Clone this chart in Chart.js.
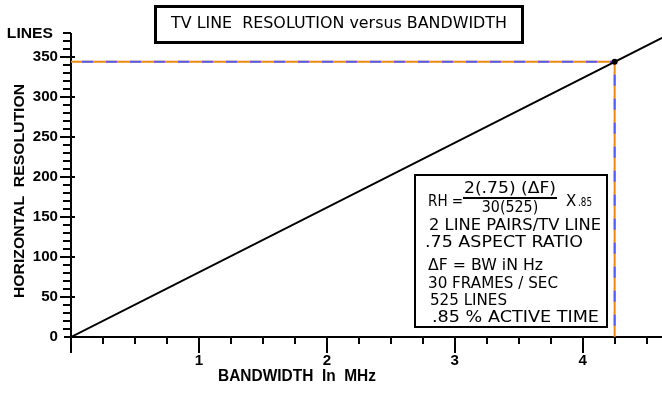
<!DOCTYPE html>
<html>
<head>
<meta charset="utf-8">
<script src="https://cdn.jsdelivr.net/npm/chart.js@4/dist/chart.umd.min.js"></script>
<style>
  html, body { margin: 0; padding: 0; background: #ffffff; }
  canvas { display: block; }
</style>
</head>
<body>
<canvas id="c" width="662" height="396"></canvas>
<script>
// ---- data ----
const bandwidthMHz    = [0, 4.25, 4.62];       // line through origin
const resolutionLines = [0, 344, 374];
const guideHX = [0, 4.25];                     // dashed horizontal guide
const guideHY = [344, 344];
const guideVX = [4.25, 4.25];                  // dashed vertical guide
const guideVY = [344, 0];
const markX = [4.25];
const markY = [344];

const yTickValues = [0, 50, 100, 150, 200, 250, 300, 350, 380];
const yTickLabels = ['0', '50', '100', '150', '200', '250', '300', '350', 'LINES'];
const xTickValues = [1, 2, 3, 4];
const xTickLabels = ['1', '2', '3', '4'];

const chartTitle = 'TV LINE  RESOLUTION versus BANDWIDTH';
const xTitle = 'BANDWIDTH  In  MHz';
const yTitle = 'HORIZONTAL  RESOLUTION';
const noteLines = ['2 LINE PAIRS/TV LINE', '.75 ASPECT RATIO', '\u0394F = BW iN Hz',
                   '30 FRAMES / SEC', '525 LINES', '.85 % ACTIVE TIME'];
const formulaParts = { lhs: 'RH =', num: '2(.75) (\u0394F)', den: '30(525)', x: 'X', k: '.85' };

const ORANGE = '#F0880F';
const BLUE = '#5858F2';
const FONT = '"Liberation Sans", Arial, sans-serif';
const NFONT = '"DejaVu Sans", "Liberation Sans", sans-serif';

function fitText(ctx, text, font, x, y, width, align) {
  ctx.save();
  ctx.font = font;
  ctx.textBaseline = 'middle';
  ctx.textAlign = 'left';
  const w = ctx.measureText(text).width;
  const sx = width ? width / w : 1;
  let left = x;
  if (align === 'center') left = x - (w * sx) / 2;
  else if (align === 'right') left = x - w * sx;
  ctx.translate(left, y);
  ctx.scale(sx, 1);
  ctx.fillText(text, 0, 0);
  ctx.restore();
}
function stretchText(ctx, text, font, x, y, sx, align) {
  ctx.save();
  ctx.font = font;
  const w = ctx.measureText(text).width;
  fitText(ctx, text, font, x, y, w * sx, align);
  ctx.restore();
}

const decor = {
  id: 'decor',
  beforeDraw(chart) {
    const ctx = chart.ctx;
    ctx.save();
    ctx.fillStyle = '#ffffff';
    ctx.fillRect(0, 0, chart.width, chart.height);
    ctx.restore();
  },
  beforeDatasetsDraw(chart) {
    const ctx = chart.ctx;
    const xs = chart.scales.x, ys = chart.scales.y;
    const x0 = Math.round(xs.getPixelForValue(0));
    const y0 = Math.round(ys.getPixelForValue(0));
    const yTop = Math.round(ys.getPixelForValue(ys.max));
    const xRight = Math.round(xs.getPixelForValue(xs.max));
    ctx.save();
    ctx.strokeStyle = '#000';
    ctx.fillStyle = '#000';
    ctx.lineWidth = 2;
    ctx.lineCap = 'butt';
    ctx.beginPath();
    ctx.moveTo(x0, yTop); ctx.lineTo(x0, y0 + 16);
    ctx.moveTo(x0 - 7, y0); ctx.lineTo(xRight + 2, y0);
    for (let v = 10; v <= ys.max + 0.001; v += 10) {
      const p = Math.round(ys.getPixelForValue(v));
      if (v % 50 === 0 && v <= 350) { ctx.moveTo(x0 - 11, p); ctx.lineTo(x0 + 4, p); }
      else { ctx.moveTo(x0 - 8, p); ctx.lineTo(x0, p); }
    }
    for (let v = 0.25; v <= xs.max + 0.001; v += 0.25) {
      const p = Math.round(xs.getPixelForValue(v));
      const major = Math.abs(v - Math.round(v)) < 1e-6;
      ctx.moveTo(p, y0); ctx.lineTo(p, y0 + (major ? 16 : 7));
    }
    ctx.stroke();

    yTickValues.forEach((v, i) => {
      const p = ys.getPixelForValue(v);
      const lbl = yTickLabels[i];
      if (lbl === 'LINES') stretchText(ctx, lbl, 'bold 14px ' + FONT, 53, p + 1, 1.12, 'right');
      else stretchText(ctx, lbl, 'bold 14px ' + FONT, 58, p, 1.08, 'right');
    });
    xTickValues.forEach((v, i) => {
      const p = xs.getPixelForValue(v);
      stretchText(ctx, xTickLabels[i], 'bold 14px ' + FONT, p, 361, 1.08, 'center');
    });
    fitText(ctx, xTitle, 'bold 16px ' + FONT, 218, 377, 158, 'left');
    ctx.save();
    ctx.translate(20, 191);
    ctx.rotate(-Math.PI / 2);
    fitText(ctx, yTitle, 'bold 15px ' + FONT, 0, 0, 214, 'center');
    ctx.restore();
    ctx.restore();
  },
  afterDatasetsDraw(chart) {
    const ctx = chart.ctx;
    ctx.save();
    ctx.strokeStyle = '#000';
    ctx.lineWidth = 3;
    ctx.fillStyle = '#fff';
    ctx.fillRect(155, 6, 367, 36);
    ctx.strokeRect(155.5, 6.5, 367, 36);
    ctx.fillStyle = '#000';
    fitText(ctx, chartTitle, '15px ' + NFONT, 171, 24, 336, 'left');

    ctx.lineWidth = 2;
    ctx.fillStyle = '#fff';
    ctx.fillRect(415, 175, 192, 152);
    ctx.strokeRect(415, 175, 192, 152);
    ctx.fillStyle = '#000';
    const f = '15px ' + NFONT;
    stretchText(ctx, formulaParts.lhs, f, 428, 202, 0.9, 'left');
    fitText(ctx, formulaParts.num, f, 464, 189, 92, 'left');
    ctx.beginPath();
    ctx.moveTo(463, 198); ctx.lineTo(557, 198);
    ctx.stroke();
    stretchText(ctx, formulaParts.den, f, 510, 208, 0.95, 'center');
    stretchText(ctx, formulaParts.x, f, 566, 202, 1, 'left');
    fitText(ctx, formulaParts.k, '12px ' + NFONT, 578, 203, 14, 'left');
    const lay = [[429, 226, 172], [425, 243, 158], [428, 266, 115], [428, 284, 130], [430, 301, 77], [432, 318, 167]];
    noteLines.forEach((t, i) => fitText(ctx, t, f, lay[i][0], lay[i][1], lay[i][2], 'left'));
    ctx.restore();
  }
};

const pts = (xa, ya) => xa.map((x, i) => ({ x: x, y: ya[i] }));

new Chart(document.getElementById('c'), {
  type: 'scatter',
  data: {
    datasets: [
      { data: pts(guideHX, guideHY), showLine: true, borderColor: ORANGE, borderWidth: 2,
        pointRadius: 0, tension: 0, order: 6 },
      { data: pts(guideVX, guideVY), showLine: true, borderColor: ORANGE, borderWidth: 2,
        pointRadius: 0, tension: 0, order: 5 },
      { data: pts(guideHX, guideHY), showLine: true, borderColor: BLUE, borderWidth: 2,
        borderDash: [11, 13], borderDashOffset: 13, pointRadius: 0, tension: 0, order: 4 },
      { data: pts(guideVX, guideVY), showLine: true, borderColor: BLUE, borderWidth: 2,
        borderDash: [11, 13], borderDashOffset: 11, pointRadius: 0, tension: 0, order: 3 },
      { data: pts(bandwidthMHz, resolutionLines), showLine: true, borderColor: '#000', borderWidth: 2,
        pointRadius: 0, tension: 0, order: 2 },
      { data: pts(markX, markY), showLine: false, pointRadius: 3, pointBackgroundColor: '#000',
        pointBorderColor: '#000', pointBorderWidth: 0, order: 1 }
    ]
  },
  options: {
    responsive: false,
    animation: false,
    devicePixelRatio: 1,
    events: [],
    layout: { autoPadding: false, padding: { left: 71, top: 33, right: 0, bottom: 59 } },
    plugins: { legend: { display: false }, tooltip: { enabled: false }, title: { display: false } },
    scales: {
      x: { type: 'linear', min: 0, max: 4.62, display: false },
      y: { type: 'linear', min: 0, max: 380, display: false }
    }
  },
  plugins: [decor]
});
</script>
</body>
</html>
